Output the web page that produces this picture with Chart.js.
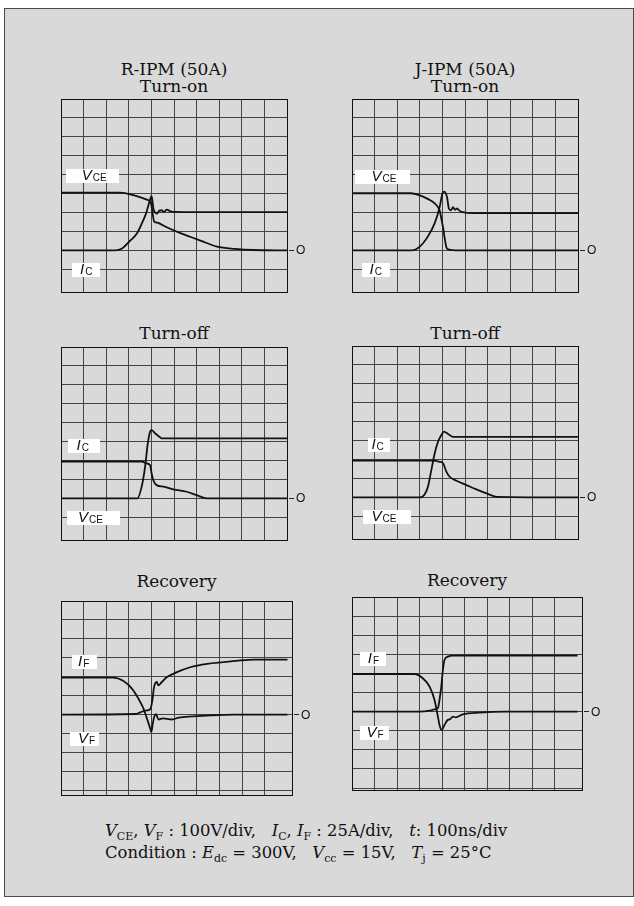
<!DOCTYPE html>
<html><head><meta charset="utf-8">
<script src="https://cdn.jsdelivr.net/npm/chart.js@4.4.1/dist/chart.umd.min.js"></script>
<style>
html,body{margin:0;padding:0;background:#fff;}
body{width:634px;height:906px;position:relative;overflow:hidden;font-family:"DejaVu Serif",serif;color:#111;}
#frame{position:absolute;left:4px;top:8px;width:628px;height:887px;background:#d9d9d9;border:1px solid #4a4a4a;}
.title{position:absolute;text-align:center;font-size:17px;line-height:17px;white-space:nowrap;transform:translateX(-50%);}
.wrap{position:absolute;}
.box{position:absolute;background:#fff;}
.lbl{position:absolute;font-family:"Liberation Sans",Arial,sans-serif;white-space:nowrap;line-height:14px;top:-1px;}
.lbl i{font-size:15px;}
.lbl sub{font-size:10px;vertical-align:baseline;position:relative;top:1px;margin-left:1px;}
.zdash{position:absolute;height:1px;background:#222;width:5px;}
.ztxt{position:absolute;font-family:"Liberation Sans",Arial,sans-serif;font-size:12px;line-height:12px;}
.foot{position:absolute;left:105px;font-size:16.4px;line-height:22px;white-space:pre;}
.foot sub{font-size:11px;vertical-align:baseline;position:relative;top:4px;}
</style></head><body>
<div id="frame"></div>
<div class="foot" style="top:820px"><i>V</i><sub>CE</sub>, <i>V</i><sub>F</sub> : 100V/div,   <i>I</i><sub>C</sub>, <i>I</i><sub>F</sub> : 25A/div,   <i>t</i>: 100ns/div</div>
<div class="foot" style="top:842px">Condition : <i>E</i><sub>dc</sub> = 300V,   <i>V</i><sub>cc</sub> = 15V,   <i>T</i><sub>j</sub> = 25°C</div>
<script>
// ---- data (time in divisions of 100 ns, values in divisions) ----
const rOnVceT = [0, 2.6, 3.2, 3.8, 3.98, 4.06, 4.12, 4.25, 4.4, 4.55, 4.85, 5.2, 5.6, 6.2, 6.9, 7.7, 8.5, 10];
const rOnVce  = [3.05, 3.05, 2.92, 2.68, 2.5, 1.9, 1.52, 1.47, 1.4, 1.3, 1.13, 0.95, 0.77, 0.5, 0.2, 0.08, 0.02, 0];
const rOnIcT  = [0, 2.4, 2.7, 3.05, 3.35, 3.57, 3.76, 3.91, 4.01, 4.09, 4.17, 4.25, 4.35, 4.45, 4.55, 4.68, 4.82, 5.04, 6, 10];
const rOnIc   = [0, 0, 0.1, 0.5, 0.88, 1.41, 1.94, 2.56, 2.86, 2.2, 2.0, 1.94, 2.1, 2.12, 2.03, 2.15, 2.08, 2.03, 2.02, 2.02];

const jOnVceT = [0, 2.6, 3.14, 3.5, 3.73, 3.88, 3.95, 4.03, 4.1, 4.18, 4.3, 4.6, 10];
const jOnVce  = [3.02, 3.02, 2.84, 2.62, 2.4, 2.1, 1.7, 1.2, 0.65, 0.15, 0.04, 0, 0];
const jOnIcT  = [0, 2.63, 3.0, 3.36, 3.66, 3.88, 4.0, 4.07, 4.2, 4.29, 4.38, 4.47, 4.56, 4.65, 4.75, 4.9, 5.35, 10];
const jOnIc   = [0, 0, 0.2, 0.74, 1.44, 2.3, 3.0, 3.1, 2.84, 2.2, 2.12, 2.28, 2.15, 2.22, 2.1, 2.02, 1.97, 1.97];

const rOffIcT  = [0, 3.57, 3.79, 3.94, 4.01, 4.08, 4.23, 4.53, 4.97, 5.56, 6.0, 6.45, 10];
const rOffIc   = [1.95, 1.95, 1.85, 1.76, 1.32, 0.97, 0.7, 0.62, 0.48, 0.35, 0.17, 0, 0];
const rOffVceT = [0, 3.38, 3.57, 3.72, 3.84, 3.94, 4.01, 4.16, 4.38, 4.45, 10];
const rOffVce  = [0, 0, 0.62, 1.67, 2.9, 3.52, 3.61, 3.44, 3.23, 3.17, 3.17];

const jOffIcT  = [0, 3.58, 3.88, 4.03, 4.18, 4.32, 4.62, 5.06, 5.5, 5.95, 6.39, 10];
const jOffIc   = [1.94, 1.94, 1.88, 1.8, 1.35, 1.09, 0.88, 0.65, 0.42, 0.21, 0.03, 0];
const jOffVceT = [0, 3.0, 3.22, 3.36, 3.51, 3.66, 3.81, 3.96, 4.07, 4.25, 4.47, 10];
const jOffVce  = [0, 0, 0.17, 0.56, 1.44, 2.33, 2.95, 3.3, 3.47, 3.35, 3.2, 3.2];

const rRecIfT = [0, 2.31, 2.76, 3.13, 3.42, 3.64, 3.82, 3.94, 3.99, 4.05, 4.12, 4.2, 4.3, 4.5, 4.9, 5.2, 5.8, 6.6, 7.6, 10];
const rRecIf  = [1.95, 1.95, 1.77, 1.37, 0.84, 0.32, -0.3, -0.74, -0.92, -0.5, -0.1, 0.02, -0.26, -0.2, -0.26, -0.16, -0.1, -0.04, 0, 0];
const rRecVfT = [0, 3.3, 3.5, 3.79, 3.95, 4.04, 4.1, 4.16, 4.23, 4.3, 4.45, 4.68, 5.12, 5.7, 6.45, 7.18, 7.92, 8.5, 10];
const rRecVf  = [0, 0.03, 0.12, 0.22, 0.3, 0.8, 1.4, 1.65, 1.72, 1.54, 1.72, 1.98, 2.24, 2.5, 2.68, 2.77, 2.86, 2.9, 2.9];

const jRecIfT = [0, 2.77, 3.14, 3.44, 3.66, 3.81, 3.88, 3.98, 4.1, 4.25, 4.35, 4.47, 4.6, 4.91, 5.65, 6.8, 10];
const jRecIf  = [1.97, 1.97, 1.75, 1.31, 0.61, -0.26, -0.7, -0.96, -0.7, -0.43, -0.4, -0.26, -0.3, -0.14, -0.05, 0, 0];
const jRecVfT = [0, 3.0, 3.44, 3.66, 3.81, 3.88, 3.96, 4.03, 4.1, 4.25, 4.47, 10];
const jRecVf  = [0, 0, 0.05, 0.12, 0.18, 0.61, 1.31, 2.18, 2.7, 2.88, 2.93, 2.93];

const xTicksFull = [0,1,2,3,4,5,6,7,8,9,10];
const xTicksRec  = [0,1,2,3,4,5,6,7,8,9,10.2];
const yTicksSw   = [-2.2,-1,0,1,2,3,4,5,6,7,8];
const yTicksRecL = [-4.25,-4,-3,-2,-1,0,1,2,3,4,5,6];
const yTicksRecR = [-4.1,-4,-3,-2,-1,0,1,2,3,4,5,6];

// ---- layout ----
const panels = [
  {left:61, top:99, w:226, h:193, xT:xTicksFull, yT:yTicksSw, series:[[rOnVceT,rOnVce],[rOnIcT,rOnIc]]},
  {left:352, top:99, w:226, h:193, xT:xTicksFull, yT:yTicksSw, series:[[jOnVceT,jOnVce],[jOnIcT,jOnIc]]},
  {left:61, top:347, w:226, h:193, xT:xTicksFull, yT:yTicksSw, series:[[rOffIcT,rOffIc],[rOffVceT,rOffVce]]},
  {left:352, top:346, w:226, h:193, xT:xTicksFull, yT:yTicksSw, series:[[jOffIcT,jOffIc],[jOffVceT,jOffVce]]},
  {left:61, top:601, w:231, h:194, xT:xTicksRec, yT:yTicksRecL, series:[[rRecIfT,rRecIf],[rRecVfT,rRecVf]]},
  {left:352, top:597, w:230, h:193, xT:xTicksRec, yT:yTicksRecR, series:[[jRecIfT,jRecIf],[jRecVfT,jRecVf]]}
];
const titles = [
  {p:0, top:61, html:'R-IPM (50A)<br>Turn-on'},
  {p:1, top:61, html:'J-IPM (50A)<br>Turn-on'},
  {p:2, top:325, html:'Turn-off'},
  {p:3, top:325, html:'Turn-off'},
  {p:4, top:573, html:'Recovery'},
  {p:5, top:572, html:'Recovery'}
];
const VCE='<i>V</i><sub>CE</sub>', IC='<i>I</i><sub>C</sub>', IF='<i>I</i><sub>F</sub>', VF='<i>V</i><sub>F</sub>';
const labels = [
  {p:0, html:VCE, x0:0.22, x1:2.57, tx:0.92, y:3.95},
  {p:0, html:IC,  x0:0.49, x1:1.73, tx:0.84, y:-1.02},
  {p:1, html:VCE, x0:0.12, x1:2.55, tx:0.86, y:3.9},
  {p:1, html:IC,  x0:0.43, x1:1.67, tx:0.78, y:-1.02},
  {p:2, html:IC,  x0:0.30, x1:1.73, tx:0.69, y:2.75},
  {p:2, html:VCE, x0:0.25, x1:2.6,  tx:0.75, y:-1.02},
  {p:3, html:IC,  x0:0.70, x1:1.67, tx:0.86, y:2.75},
  {p:3, html:VCE, x0:0.50, x1:2.6,  tx:0.86, y:-1.02},
  {p:4, html:IF,  x0:0.47, x1:1.58, tx:0.75, y:2.78},
  {p:4, html:VF,  x0:0.40, x1:1.70, tx:0.75, y:-1.3},
  {p:5, html:IF,  x0:0.35, x1:1.50, tx:0.70, y:2.78},
  {p:5, html:VF,  x0:0.35, x1:1.63, tx:0.64, y:-1.1}
];

function el(cls, parent){const d=document.createElement('div'); d.className=cls; (parent||document.body).appendChild(d); return d;}

const charts = panels.map(p=>{
  const pad=3;
  const wrap=el('wrap');
  wrap.style.left=(p.left-pad)+'px'; wrap.style.top=(p.top-pad)+'px';
  const cv=document.createElement('canvas');
  cv.width=p.w+2*pad; cv.height=p.h+2*pad;
  cv.style.width=cv.width+'px'; cv.style.height=cv.height+'px';
  wrap.appendChild(cv);
  const xs=p.xT, ys=p.yT;
  const edge=(v,arr)=> v===arr[0]||v===arr[arr.length-1];
  const chart=new Chart(cv,{
    type:'line',
    data:{datasets:p.series.map(s=>({
      data:s[0].map((t,i)=>({x:t,y:s[1][i]})),
      borderColor:'#111', borderWidth:1.8, pointRadius:0, fill:false,
      cubicInterpolationMode:'monotone'
    }))},
    options:{
      responsive:false, animation:false, devicePixelRatio:1,
      layout:{padding:pad},
      plugins:{legend:{display:false}, tooltip:{enabled:false}},
      scales:{
        x:{type:'linear', min:xs[0], max:xs[xs.length-1],
           afterBuildTicks:s=>{s.ticks=xs.map(v=>({value:v}));},
           ticks:{display:false},
           grid:{drawTicks:false, color:c=>edge(c.tick.value,xs)?'#111':'#444', lineWidth:1},
           border:{display:true,color:'#111',width:1}},
        y:{type:'linear', min:ys[0], max:ys[ys.length-1],
           afterBuildTicks:s=>{s.ticks=ys.map(v=>({value:v}));},
           ticks:{display:false},
           grid:{drawTicks:false, color:c=>edge(c.tick.value,ys)?'#111':'#444', lineWidth:1},
           border:{display:true,color:'#111',width:1}}
      }
    }
  });
  const ca=chart.chartArea;
  wrap.style.left=(p.left-ca.left)+'px'; wrap.style.top=(p.top-ca.top)+'px';
  return {chart, wrap, p};
});

function px(i,xv){const c=charts[i];return parseFloat(c.wrap.style.left)+c.chart.scales.x.getPixelForValue(xv);}
function py(i,yv){const c=charts[i];return parseFloat(c.wrap.style.top)+c.chart.scales.y.getPixelForValue(yv);}

titles.forEach(t=>{
  const p=panels[t.p]; const d=el('title'); d.innerHTML=t.html;
  d.style.left=(p.left+p.w/2)+'px'; d.style.top=t.top+'px';
});
labels.forEach(l=>{
  const b=el('box'); const x0=px(l.p,l.x0), x1=px(l.p,l.x1), yc=py(l.p,l.y);
  b.style.left=x0+'px'; b.style.width=(x1-x0)+'px'; b.style.top=(yc-7)+'px'; b.style.height='14px';
  const s=el('lbl',b); s.innerHTML=l.html; s.style.left=(px(l.p,l.tx)-x0)+'px';
});
panels.forEach((p,i)=>{
  const y0=py(i,0); const r=p.left+p.w;
  const d=el('zdash'); d.style.left=(r+2)+'px'; d.style.top=(y0-0.5)+'px';
  const t=el('ztxt'); t.textContent='O'; t.style.left=(r+9)+'px'; t.style.top=(y0-6)+'px';
});
</script>
</body></html>
